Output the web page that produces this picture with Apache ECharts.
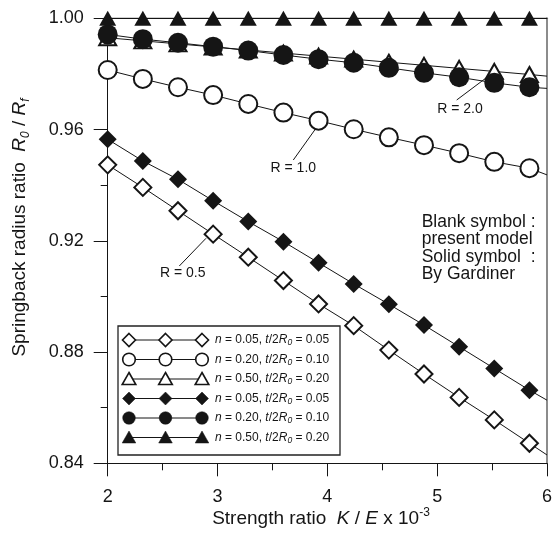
<!DOCTYPE html>
<html><head><meta charset="utf-8">
<script src="https://cdn.jsdelivr.net/npm/echarts@6/dist/echarts.min.js"></script>
<style>html,body{margin:0;padding:0;background:#fff}#c{width:555px;height:541px}</style>
</head><body><div id="c"></div><script>
// ---- data ----
const xValues = [2.00, 2.32, 2.64, 2.96, 3.28, 3.60, 3.92, 4.24, 4.56, 4.88, 5.20, 5.52, 5.84];
const xTicks = [2, 3, 4, 5, 6];
const yTicks = [0.84, 0.88, 0.92, 0.96, 1.00];
// present model (blank symbols)
const openDiamond  = [0.9473, 0.9392, 0.9308, 0.9224, 0.9141, 0.9057, 0.8973, 0.8895, 0.8807, 0.8721, 0.8637, 0.8556, 0.8472];
const openCircle   = [0.9814, 0.9782, 0.9752, 0.9724, 0.9692, 0.9661, 0.9632, 0.9601, 0.9572, 0.9544, 0.9515, 0.9484, 0.9461];
const openTriangle = [0.9930, 0.9919, 0.9908, 0.9897, 0.9886, 0.9875, 0.9864, 0.9853, 0.9842, 0.9831, 0.9820, 0.9809, 0.9798];
// Gardiner (solid symbols)
const solidDiamond  = [0.9565, 0.9487, 0.9421, 0.9344, 0.9269, 0.9197, 0.9121, 0.9045, 0.8972, 0.8897, 0.8819, 0.8741, 0.8663];
const solidCircle   = [0.9942, 0.9925, 0.9912, 0.9898, 0.9884, 0.9868, 0.9853, 0.9840, 0.9822, 0.9804, 0.9788, 0.9768, 0.9752];
const solidTriangle = [1.0, 1.0, 1.0, 1.0, 1.0, 1.0, 1.0, 1.0, 1.0, 1.0, 1.0, 1.0, 1.0];
// where each fitted curve meets the right edge (x = 6)
const curveEndX = 6;
const curveEnd = { openDiamond: 0.8430, openCircle: 0.9437, openTriangle: 0.9792,
                   solidDiamond: 0.8627, solidCircle: 0.9748, solidTriangle: 1.0 };
const legendLabels = [
  ['0.05', '0.05'], ['0.20', '0.10'], ['0.50', '0.20'],
  ['0.05', '0.05'], ['0.20', '0.10'], ['0.50', '0.20']
];

const FONT = "'Liberation Sans', Arial, Helvetica, sans-serif";
const INK = '#151515';
const chart = echarts.init(document.getElementById('c'), null, {renderer: 'canvas'});

function mk(name, vals, endVal, symbol, size, open, z) {
  const data = xValues.map((x, i) => [x, vals[i]]);
  data.push({value: [curveEndX, endVal], symbol: 'none'});
  return {
    type: 'line', name, data, symbol, symbolSize: size, showSymbol: true, showAllSymbol: true,
    clip: false, animation: false, z,
    lineStyle: {color: INK, width: 1},
    itemStyle: open ? {color: '#fff', borderColor: INK, borderWidth: 2}
                    : {color: INK, borderColor: INK, borderWidth: 0},
    emphasis: {disabled: true}
  };
}

// ---- legend (drawn as graphics) ----
const lgX = [129, 165.5, 202];
const lgY0 = 340, lgDY = 19.5;
const lgShapes = ['diamond', 'circle', 'triangle', 'diamond', 'circle', 'triangle'];
function lgSymbol(shape, cx, cy, open) {
  const style = open ? {fill: '#fff', stroke: INK, lineWidth: 1.6} : {fill: INK, stroke: INK, lineWidth: 0.5};
  if (shape === 'circle') return {type: 'circle', shape: {cx, cy, r: 6.3}, style, z: 102};
  if (shape === 'diamond') return {type: 'polygon', shape: {points: [[cx, cy - 6.5], [cx + 6.5, cy], [cx, cy + 6.5], [cx - 6.5, cy]]}, style, z: 102};
  return {type: 'polygon', shape: {points: [[cx, cy - 6.5], [cx + 6.8, cy + 5.5], [cx - 6.8, cy + 5.5]]}, style, z: 102};
}
const legendEls = [{type: 'rect', shape: {x: 118, y: 326, width: 222, height: 129},
  style: {fill: '#fff', stroke: '#222', lineWidth: 1.3}, z: 100}];
legendLabels.forEach((lab, k) => {
  const y = lgY0 + k * lgDY;
  const open = k < 3;
  legendEls.push({type: 'line', shape: {x1: lgX[0], y1: y, x2: lgX[2], y2: y}, style: {stroke: INK, lineWidth: 1}, z: 101});
  lgX.forEach(x => legendEls.push(lgSymbol(lgShapes[k], x, y, open)));
  legendEls.push({type: 'text', x: 215, y: y, z: 102, style: {
    text: '{i|n} = ' + lab[0] + ', {i|t}/2{i|R}{s|0} = ' + lab[1],
    fontFamily: FONT, fontSize: 12, fill: INK, verticalAlign: 'middle', align: 'left',
    rich: {
      i: {fontStyle: 'italic', fontFamily: FONT, fontSize: 12, fill: INK, lineHeight: 15},
      s: {fontStyle: 'italic', fontFamily: FONT, fontSize: 8.5, fill: INK, lineHeight: 8, verticalAlign: 'bottom'}
    }
  }});
});

const annotEls = [
  {type: 'text', x: 460, y: 109, style: {text: 'R = 2.0', fontFamily: FONT, fontSize: 14, fill: INK, align: 'center', verticalAlign: 'middle'}},
  {type: 'line', shape: {x1: 456.7, y1: 100, x2: 490, y2: 75}, style: {stroke: INK, lineWidth: 1}},
  {type: 'text', x: 293.3, y: 168, style: {text: 'R = 1.0', fontFamily: FONT, fontSize: 14, fill: INK, align: 'center', verticalAlign: 'middle'}},
  {type: 'line', shape: {x1: 293.3, y1: 160, x2: 318.3, y2: 125}, style: {stroke: INK, lineWidth: 1}},
  {type: 'text', x: 182.7, y: 273.5, style: {text: 'R = 0.5', fontFamily: FONT, fontSize: 14, fill: INK, align: 'center', verticalAlign: 'middle'}},
  {type: 'line', shape: {x1: 179.3, y1: 266, x2: 206, y2: 238.3}, style: {stroke: INK, lineWidth: 1}},
  {type: 'text', x: 421.7, y: 213, style: {text: 'Blank symbol :\npresent model\nSolid symbol  :\nBy Gardiner',
    fontFamily: FONT, fontSize: 17.5, lineHeight: 17.6, fill: INK, align: 'left', verticalAlign: 'top'}},
  // axis titles
  {type: 'text', x: 321, y: 519, style: {
    text: 'Strength ratio  {i|K} / {i|E} x 10{p|-3}', fontFamily: FONT, fontSize: 19, fill: INK,
    align: 'center', verticalAlign: 'middle',
    rich: {i: {fontStyle: 'italic', fontFamily: FONT, fontSize: 19, fill: INK, lineHeight: 24},
           p: {fontFamily: FONT, fontSize: 12, fill: INK, lineHeight: 12, verticalAlign: 'top'}}}},
  {type: 'text', x: 20, y: 227.5, rotation: Math.PI / 2, style: {
    text: 'Springback radius ratio  {i|R}{s|0} / {i|R}{s|f}', fontFamily: FONT, fontSize: 19, fill: INK,
    align: 'center', verticalAlign: 'middle',
    rich: {i: {fontStyle: 'italic', fontFamily: FONT, fontSize: 19, fill: INK, lineHeight: 24},
           s: {fontStyle: 'italic', fontFamily: FONT, fontSize: 12, fill: INK, lineHeight: 12, verticalAlign: 'bottom'}}}}
];

const option = {
  animation: false,
  backgroundColor: '#fff',
  grid: {left: 107.7, right: 5.7, top: 18.3, bottom: 77.7, containLabel: false},
  xAxis: [{
    type: 'value', min: xTicks[0], max: xTicks[xTicks.length - 1], interval: 1,
    axisLine: {show: true, onZero: false, lineStyle: {color: INK, width: 1}},
    axisTick: {show: true, length: 13, lineStyle: {color: INK, width: 1}},
    minorTick: {show: true, splitNumber: 2, length: 7, lineStyle: {color: INK, width: 1}},
    splitLine: {show: false},
    axisLabel: {margin: 25, fontSize: 18, fontFamily: FONT, color: INK, formatter: v => String(Math.round(v))}
  }, {
    type: 'value', position: 'top', min: xTicks[0], max: xTicks[xTicks.length - 1],
    axisLine: {show: true, onZero: false, lineStyle: {color: INK, width: 1}},
    axisTick: {show: false}, axisLabel: {show: false}, splitLine: {show: false}
  }],
  yAxis: [{
    type: 'value', min: yTicks[0], max: yTicks[yTicks.length - 1], interval: 0.04,
    axisLine: {show: true, onZero: false, lineStyle: {color: INK, width: 1}},
    axisTick: {show: true, length: 14, lineStyle: {color: INK, width: 1}},
    minorTick: {show: true, splitNumber: 2, length: 7, lineStyle: {color: INK, width: 1}},
    splitLine: {show: false},
    axisLabel: {margin: 24, fontSize: 18, fontFamily: FONT, color: INK, formatter: v => v.toFixed(2)}
  }, {
    type: 'value', position: 'right', min: yTicks[0], max: yTicks[yTicks.length - 1],
    axisLine: {show: true, onZero: false, lineStyle: {color: '#8c8c8c', width: 2}},
    axisTick: {show: false}, axisLabel: {show: false}, splitLine: {show: false}
  }],
  series: [
    mk('n = 0.05, t/2R0 = 0.05 (present)', openDiamond, curveEnd.openDiamond, 'diamond', 17, true, 2),
    mk('n = 0.20, t/2R0 = 0.10 (present)', openCircle, curveEnd.openCircle, 'circle', 18, true, 2),
    mk('n = 0.50, t/2R0 = 0.20 (present)', openTriangle, curveEnd.openTriangle, 'triangle', [17, 15], true, 2),
    mk('n = 0.05, t/2R0 = 0.05 (Gardiner)', solidDiamond, curveEnd.solidDiamond, 'diamond', 18, false, 3),
    mk('n = 0.20, t/2R0 = 0.10 (Gardiner)', solidCircle, curveEnd.solidCircle, 'circle', 20, false, 3),
    mk('n = 0.50, t/2R0 = 0.20 (Gardiner)', solidTriangle, curveEnd.solidTriangle, 'triangle', [17, 15], false, 3)
  ],
  graphic: {elements: legendEls.concat(annotEls)}
};
chart.setOption(option);
</script></body></html>
